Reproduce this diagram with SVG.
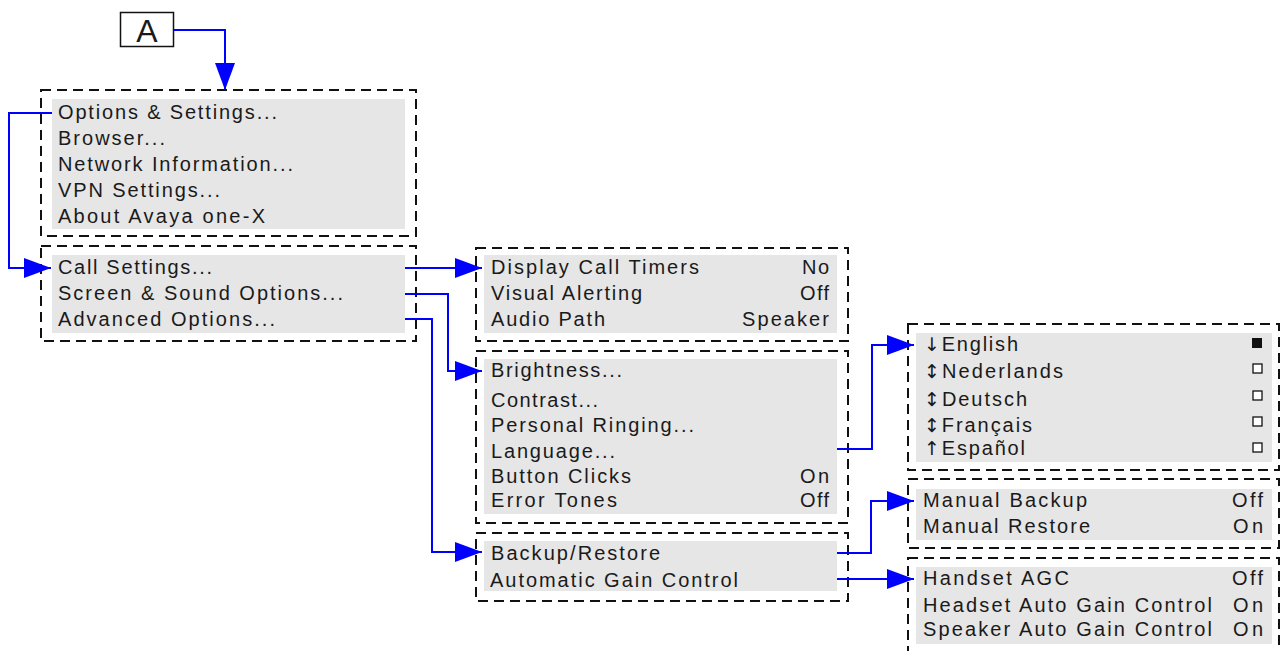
<svg xmlns="http://www.w3.org/2000/svg" width="1284" height="651" viewBox="0 0 1284 651">
<defs>
<style>
.frame{fill:none;stroke:#111;stroke-width:2;stroke-dasharray:10 6}
.panel{fill:#e6e6e6;stroke:none}
.t{font-family:"Liberation Sans",Arial,sans-serif;font-size:20px;fill:#1a1a1a}
.g{font-family:"DejaVu Sans",sans-serif;font-size:19px}
.r{text-anchor:end}
.box{fill:#fff;stroke:#111;stroke-width:1.3}
.conn{fill:none;stroke:#0000ff;stroke-width:2}
</style>
<marker id="arr" markerUnits="userSpaceOnUse" markerWidth="30" markerHeight="22" refX="27" refY="10" orient="auto">
<path d="M0,0 L27,10 L0,20 Z" fill="#0000ff"/>
</marker>
</defs>
<rect width="1284" height="651" fill="#ffffff"/>

<g id="nodeA">
<rect x="120.5" y="12.5" width="53" height="34" fill="#fff" stroke="#111" stroke-width="1.5"/>
<text x="147" y="41.5" font-family="'Liberation Sans',Arial,sans-serif" font-size="32" text-anchor="middle" fill="#1a1a1a">A</text>
</g>

<g id="mainMenu">
<rect class="frame" x="41" y="90" width="375" height="146"/>
<rect class="panel" x="52" y="99" width="353" height="130"/>
<text class="t" x="58" y="119" textLength="219" lengthAdjust="spacing">Options &amp; Settings...</text>
<text class="t" x="58" y="145" textLength="107" lengthAdjust="spacing">Browser...</text>
<text class="t" x="58" y="171" textLength="235" lengthAdjust="spacing">Network Information...</text>
<text class="t" x="58" y="197" textLength="162" lengthAdjust="spacing">VPN Settings...</text>
<text class="t" x="58" y="223" textLength="207" lengthAdjust="spacing">About Avaya one-X</text>
</g>

<g id="optionsMenu">
<rect class="frame" x="41" y="246" width="375" height="95"/>
<rect class="panel" x="52" y="255" width="353" height="78"/>
<text class="t" x="58" y="274" textLength="154" lengthAdjust="spacing">Call Settings...</text>
<text class="t" x="58" y="300" textLength="285" lengthAdjust="spacing">Screen &amp; Sound Options...</text>
<text class="t" x="58" y="326" textLength="217" lengthAdjust="spacing">Advanced Options...</text>
</g>

<g id="callSettings">
<rect class="frame" x="476" y="248" width="372" height="93"/>
<rect class="panel" x="484" y="255" width="353" height="78"/>
<text class="t" x="491" y="274" textLength="208" lengthAdjust="spacing">Display Call Timers</text>
<text class="t" x="491" y="300" textLength="151" lengthAdjust="spacing">Visual Alerting</text>
<text class="t" x="491" y="326" textLength="114" lengthAdjust="spacing">Audio Path</text>
<text class="t r" x="829" y="274" textLength="27" lengthAdjust="spacing">No</text>
<text class="t r" x="829" y="300" textLength="29" lengthAdjust="spacing">Off</text>
<text class="t r" x="829" y="326" textLength="87" lengthAdjust="spacing">Speaker</text>
</g>

<g id="screenSound">
<rect class="frame" x="476" y="351" width="372" height="172"/>
<rect class="panel" x="484" y="359" width="353" height="155"/>
<text class="t" x="491" y="377" textLength="131" lengthAdjust="spacing">Brightness...</text>
<text class="t" x="491" y="407" textLength="107" lengthAdjust="spacing">Contrast...</text>
<text class="t" x="491" y="432" textLength="203" lengthAdjust="spacing">Personal Ringing...</text>
<text class="t" x="491" y="458" textLength="124" lengthAdjust="spacing">Language...</text>
<text class="t" x="491" y="483" textLength="140" lengthAdjust="spacing">Button Clicks</text>
<text class="t" x="491" y="507" textLength="126" lengthAdjust="spacing">Error Tones</text>
<text class="t r" x="829" y="483" textLength="29" lengthAdjust="spacing">On</text>
<text class="t r" x="829" y="507" textLength="29" lengthAdjust="spacing">Off</text>
</g>

<g id="advancedOptions">
<rect class="frame" x="476" y="533" width="372" height="68"/>
<rect class="panel" x="484" y="541" width="353" height="50"/>
<text class="t" x="491" y="560" textLength="169" lengthAdjust="spacing">Backup/Restore</text>
<text class="t" x="490" y="587" textLength="248" lengthAdjust="spacing">Automatic Gain Control</text>
</g>

<g id="languageMenu">
<rect class="frame" x="908" y="324" width="371" height="146"/>
<rect class="panel" x="916" y="333" width="356" height="129"/>
<text class="t" x="924" y="351" textLength="94" lengthAdjust="spacing"><tspan class="g">↓</tspan>English</text>
<text class="t" x="924" y="378" textLength="139" lengthAdjust="spacing"><tspan class="g">↕</tspan>Nederlands</text>
<text class="t" x="924" y="406" textLength="103" lengthAdjust="spacing"><tspan class="g">↕</tspan>Deutsch</text>
<text class="t" x="924" y="432" textLength="108" lengthAdjust="spacing"><tspan class="g">↕</tspan>Français</text>
<text class="t" x="924" y="455" textLength="101" lengthAdjust="spacing"><tspan class="g">↑</tspan>Español</text>
<rect x="1252" y="338" width="10" height="10" fill="#111"/>
<rect class="box" x="1253" y="364" width="9" height="9"/>
<rect class="box" x="1253" y="391" width="9" height="9"/>
<rect class="box" x="1253" y="417" width="9" height="9"/>
<rect class="box" x="1253" y="443" width="9" height="9"/>
</g>

<g id="backupRestore">
<rect class="frame" x="908" y="479" width="371" height="69"/>
<rect class="panel" x="916" y="489" width="356" height="51"/>
<text class="t" x="923" y="507" textLength="164" lengthAdjust="spacing">Manual Backup</text>
<text class="t" x="923" y="533" textLength="167" lengthAdjust="spacing">Manual Restore</text>
<text class="t r" x="1263" y="507" textLength="31" lengthAdjust="spacing">Off</text>
<text class="t r" x="1263" y="533" textLength="30" lengthAdjust="spacing">On</text>
</g>

<g id="gainControl">
<rect class="frame" x="908" y="558" width="371" height="110"/>
<rect class="panel" x="916" y="567" width="356" height="77"/>
<text class="t" x="923" y="585" textLength="146" lengthAdjust="spacing">Handset AGC</text>
<text class="t" x="923" y="612" textLength="289" lengthAdjust="spacing">Headset Auto Gain Control</text>
<text class="t" x="923" y="636" textLength="289" lengthAdjust="spacing">Speaker Auto Gain Control</text>
<text class="t r" x="1263" y="585" textLength="31" lengthAdjust="spacing">Off</text>
<text class="t r" x="1263" y="612" textLength="30" lengthAdjust="spacing">On</text>
<text class="t r" x="1263" y="636" textLength="30" lengthAdjust="spacing">On</text>
</g>

<g id="connectors">
<path class="conn" d="M174,30 H225 V90" marker-end="url(#arr)"/>
<path class="conn" d="M52,113 H9 V268 H51" marker-end="url(#arr)"/>
<path class="conn" d="M405,268 H482" marker-end="url(#arr)"/>
<path class="conn" d="M405,294 H448 V371 H482" marker-end="url(#arr)"/>
<path class="conn" d="M405,319 H432 V552 H482" marker-end="url(#arr)"/>
<path class="conn" d="M837,449 H872 V345 H914" marker-end="url(#arr)"/>
<path class="conn" d="M837,553 H871 V501 H914" marker-end="url(#arr)"/>
<path class="conn" d="M837,579 H914" marker-end="url(#arr)"/>
</g>
</svg>
